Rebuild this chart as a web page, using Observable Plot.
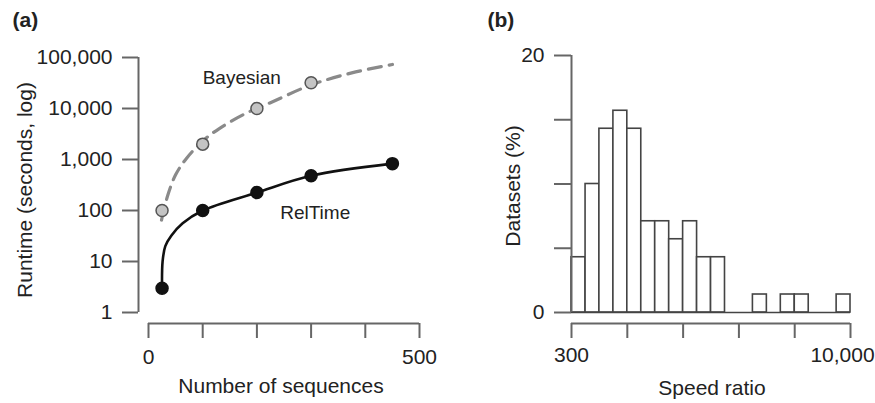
<!DOCTYPE html>
<html><head><meta charset="utf-8">
<script src="https://cdn.jsdelivr.net/npm/d3@7"></script>
<script src="https://cdn.jsdelivr.net/npm/@observablehq/plot@0.6"></script>
<style>
body{margin:0;background:#fff;font-family:"Liberation Sans",Arial,sans-serif;}
#wrap{display:flex;width:875px;height:403px;overflow:hidden;}
#wrap svg{flex:none;}
</style></head><body><div id="wrap"></div>
<script>
// ---- Panel (a) data ----
const bayesianSeq = [25, 100, 200, 300];
const bayesianRuntime = [100, 2000, 10000, 32000];
const relTimeSeq = [25, 100, 200, 300, 450];
const relTimeRuntime = [3, 100, 225, 480, 830];
// fitted trend curves
const bayesianCurveSeq = [24, 35, 50, 70, 100, 130, 175, 225, 300, 375, 450];
const bayesianCurveRuntime = [65, 190, 500, 1050, 2300, 4000, 7600, 13000, 29000, 50000, 73000];
const relTimeCurveSeq = [25, 26, 31, 42, 63, 100, 200, 300, 450];
const relTimeCurveRuntime = [3, 10, 20, 32, 56, 100, 225, 480, 830];
const runtimeTicks = [1, 10, 100, 1000, 10000, 100000];
const seqTicks = [0, 100, 200, 300, 400, 500];
const seqTickLabels = [0, 500];
const seriesLabels = ["Bayesian", "RelTime"];
const seriesLabelSeq = [100, 243];
const seriesLabelRuntime = [39000, 91];

// ---- Panel (b) data ----
const binEdges = [300, 358, 426, 508, 605, 721, 859, 1024, 1220, 1454, 1733, 2065, 2461, 2933, 3495, 4165, 4963, 5915, 7049, 8400, 10000];
const datasetPct = [4.3, 10, 14.3, 15.7, 14.3, 7.1, 7.1, 5.7, 7.1, 4.3, 4.3, 0, 0, 1.4, 0, 1.4, 1.4, 0, 0, 1.4];
const ratioTicks = [300, 605, 1220, 2460, 4960, 10000];
const pctTicks = [0, 5, 10, 15, 20];

const TXT = "#222", AX = "#666";
const fmt = d3.format(",");
const C = {textAnchor: "middle", lineAnchor: "middle", fill: TXT, fontSize: 21};

const bayesPts = bayesianSeq.map((x, i) => ({x, y: bayesianRuntime[i]}));
const relPts = relTimeSeq.map((x, i) => ({x, y: relTimeRuntime[i]}));
const bayesCurve = bayesianCurveSeq.map((x, i) => ({x, y: bayesianCurveRuntime[i]}));
const relCurve = relTimeCurveSeq.map((x, i) => ({x, y: relTimeCurveRuntime[i]}));
const labels = seriesLabels.map((t, i) => ({t, x: seriesLabelSeq[i], y: seriesLabelRuntime[i]}));

const plotA = Plot.plot({
  width: 470, height: 403,
  marginLeft: 148, marginRight: 51, marginTop: 57, marginBottom: 91,
  style: {fontFamily: '"Liberation Sans", Arial, sans-serif', fontSize: "21px", color: TXT, background: "transparent", overflow: "visible"},
  x: {domain: [0, 500], axis: null},
  y: {type: "log", domain: [1, 100000], axis: null},
  marks: [
    Plot.ruleX([0], {y1: 1, y2: 100000, dx: -10, stroke: AX, strokeWidth: 2}),
    Plot.axisY({ticks: runtimeTicks, tickSize: 16, tickPadding: 10, dx: -10, tickFormat: fmt, label: null, stroke: AX, strokeWidth: 2, fill: TXT, fontSize: 21}),
    Plot.ruleY([1], {x1: 0, x2: 500, dy: 11, stroke: AX, strokeWidth: 2}),
    Plot.axisX({ticks: seqTicks, tickSize: 15, dy: 11, tickFormat: () => "", label: null, stroke: AX, strokeWidth: 2}),
    Plot.text(seqTickLabels, {...C, x: d => d, frameAnchor: "bottom", dy: 45, text: d => String(d)}),
    Plot.line(bayesCurve, {x: "x", y: "y", curve: "catmull-rom", stroke: "#8a8a8a", strokeWidth: 3.2, strokeDasharray: "13,8"}),
    Plot.line(relCurve, {x: "x", y: "y", curve: "catmull-rom", stroke: "#111", strokeWidth: 2.6}),
    Plot.dot(bayesPts, {x: "x", y: "y", r: 6, fill: "#c4c4c4", stroke: "#555", strokeWidth: 1.5}),
    Plot.dot(relPts, {x: "x", y: "y", r: 6, fill: "#111", stroke: "#111"}),
    Plot.text(labels, {x: "x", y: "y", text: "t", textAnchor: "start", lineAnchor: "middle", fill: TXT, fontSize: 19}),
    Plot.text(["Runtime (seconds, log)"], {...C, frameAnchor: "left", dx: -123, dy: 5, rotate: -90}),
    Plot.text(["Number of sequences"], {...C, frameAnchor: "bottom", dx: -3, dy: 74}),
    Plot.text(["(a)"], {...C, frameAnchor: "top-left", dx: -136, dy: -37, textAnchor: "start", fontWeight: "bold"})
  ]
});

const bins = datasetPct.map((p, i) => ({x1: binEdges[i], x2: binEdges[i + 1], y1: 0, y2: p}));

const plotB = Plot.plot({
  width: 405, height: 403,
  marginLeft: 101, marginRight: 25, marginTop: 55, marginBottom: 91,
  style: {fontFamily: '"Liberation Sans", Arial, sans-serif', fontSize: "21px", color: TXT, background: "transparent", overflow: "visible"},
  x: {type: "log", domain: [300, 10000], axis: null},
  y: {domain: [0, 20], axis: null},
  marks: [
    Plot.rect(bins, {x1: "x1", x2: "x2", y1: "y1", y2: "y2", fill: "white", stroke: "#444", strokeWidth: 1.6, inset: 0}),
    Plot.ruleY([0], {x1: 300, x2: 10000, stroke: "#444", strokeWidth: 1.6}),
    Plot.ruleX([300], {y1: 0, y2: 20, stroke: AX, strokeWidth: 2}),
    Plot.axisY({ticks: pctTicks, tickSize: 17, tickPadding: 10, tickFormat: d => (d === 0 || d === 20) ? String(d) : "", label: null, stroke: AX, strokeWidth: 2, fill: TXT, fontSize: 21}),
    Plot.ruleY([0], {x1: 300, x2: 10000, dy: 11, stroke: AX, strokeWidth: 2}),
    Plot.axisX({ticks: ratioTicks, tickSize: 15, dy: 11, tickFormat: () => "", label: null, stroke: AX, strokeWidth: 2}),
    Plot.text([300], {...C, x: d => d, frameAnchor: "bottom", dy: 43, text: d => fmt(d)}),
    Plot.text([10000], {...C, x: d => d, frameAnchor: "bottom", dy: 43, dx: -8, text: d => fmt(d)}),
    Plot.text(["Datasets (%)"], {...C, frameAnchor: "left", dx: -58, dy: 2, rotate: -90}),
    Plot.text(["Speed ratio"], {...C, frameAnchor: "bottom", dx: 1, dy: 76}),
    Plot.text(["(b)"], {...C, frameAnchor: "top-left", dx: -84, dy: -35, textAnchor: "start", fontWeight: "bold"})
  ]
});

const wrap = document.getElementById("wrap");
wrap.appendChild(plotA);
wrap.appendChild(plotB);
</script>
</body></html>
